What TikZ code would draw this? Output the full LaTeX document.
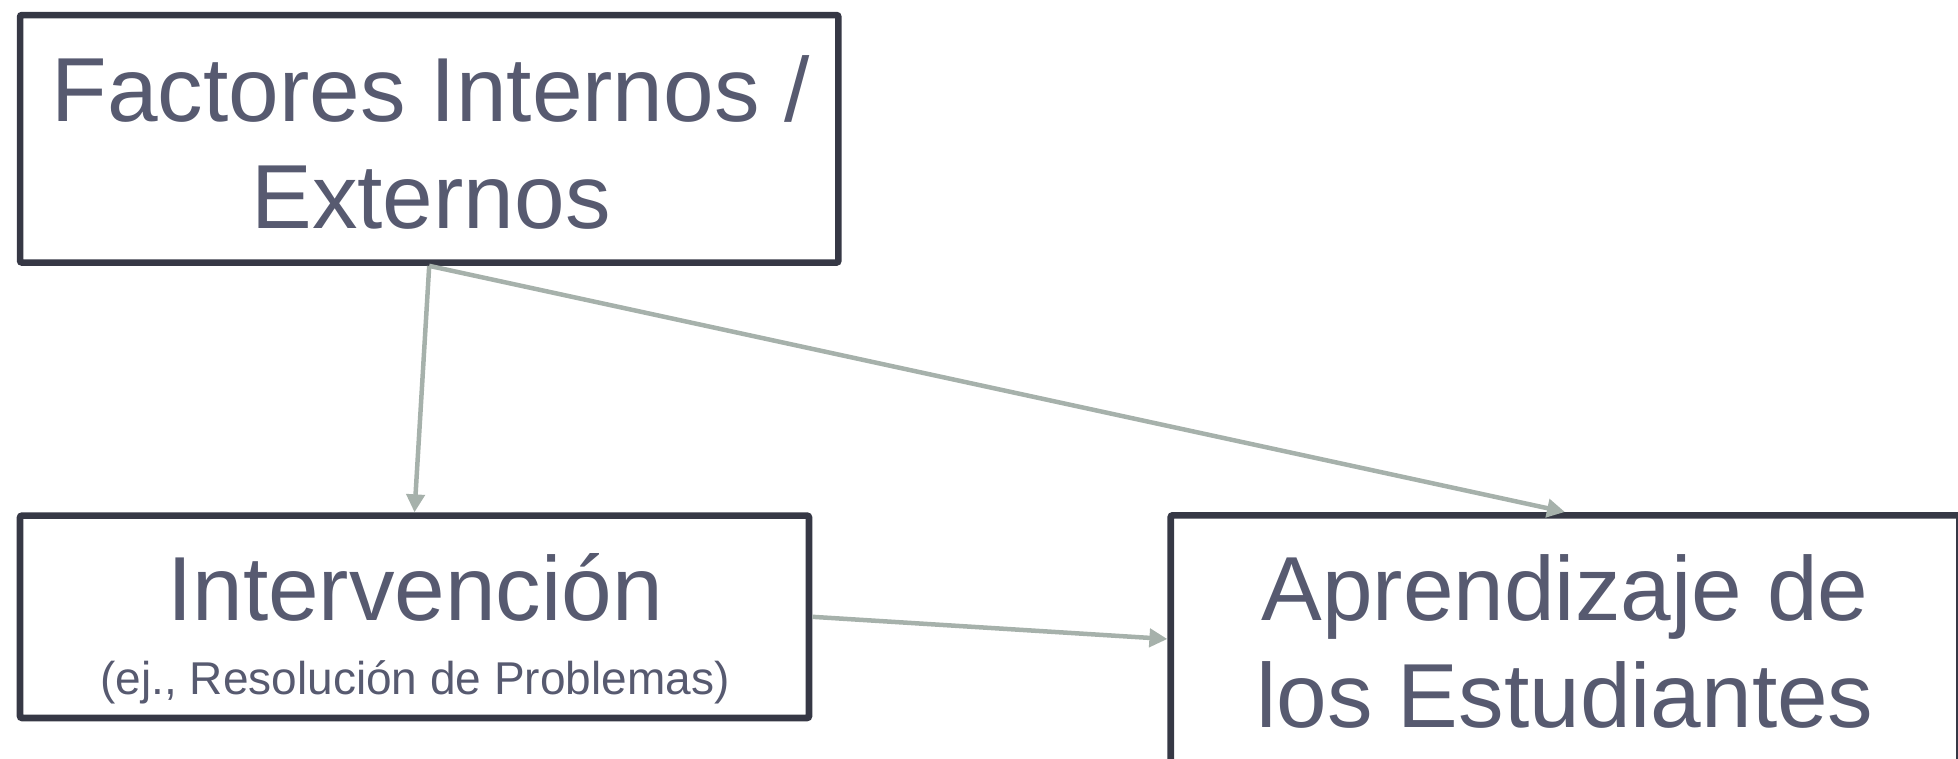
\documentclass[tikz,border=0pt]{standalone}
\usepackage{fontspec}
\setmainfont{Liberation Sans}
\usepackage{tikz}
\usetikzlibrary{arrows.meta}
\definecolor{fborder}{HTML}{363845}
\definecolor{ftext}{HTML}{575A70}
\definecolor{farrow}{HTML}{A6B1AB}

\begin{document}
\begin{tikzpicture}[x=1pt, y=-1pt,
  boxnode/.style={draw=fborder, line width=6.6pt, rounded corners=2pt, rectangle, inner sep=0pt},
  bigtext/.style={font=\fontsize{91}{107}\selectfont, text=ftext, anchor=base, inner sep=0pt},
  smalltext/.style={font=\fontsize{46}{54}\selectfont, text=ftext, anchor=base, inner sep=0pt},
  link/.style={draw=farrow, line width=4.5pt, -{Triangle[length=18pt, width=18pt]}}]

  \useasboundingbox (0,0) rectangle (1958,758);
  \clip (0,0) rectangle (1958,758);

  %% Boxes
  \node[boxnode, minimum width=818.3pt, minimum height=247.5pt] (fac) at (429.2,138.8) {};
  \node[boxnode, minimum width=789pt, minimum height=202.3pt] (int) at (414.5,616.8) {};
  \node[boxnode, minimum width=788.6pt, minimum height=247.4pt] (apr) at (1565,639) {};

  %% Labels
  \node[bigtext] (facA) at (431,121) {Factores Internos /};
  \node[bigtext] (facB) at (431,228) {Externos};
  \node[bigtext] (intA) at (415,620) {Intervención};
  \node[smalltext] (intB) at (415,694) {(ej., Resolución de Problemas)};
  \node[bigtext] (aprA) at (1565,620) {Aprendizaje de};
  \node[bigtext] (aprB) at (1565,727) {los Estudiantes};

  %% Connectors
  \draw[link] (fac.south) -- (int.north);
  \draw[link] (fac.south) -- (apr.north);
  \draw[link] (int.east) -- (apr.west);

\end{tikzpicture}
\end{document}
